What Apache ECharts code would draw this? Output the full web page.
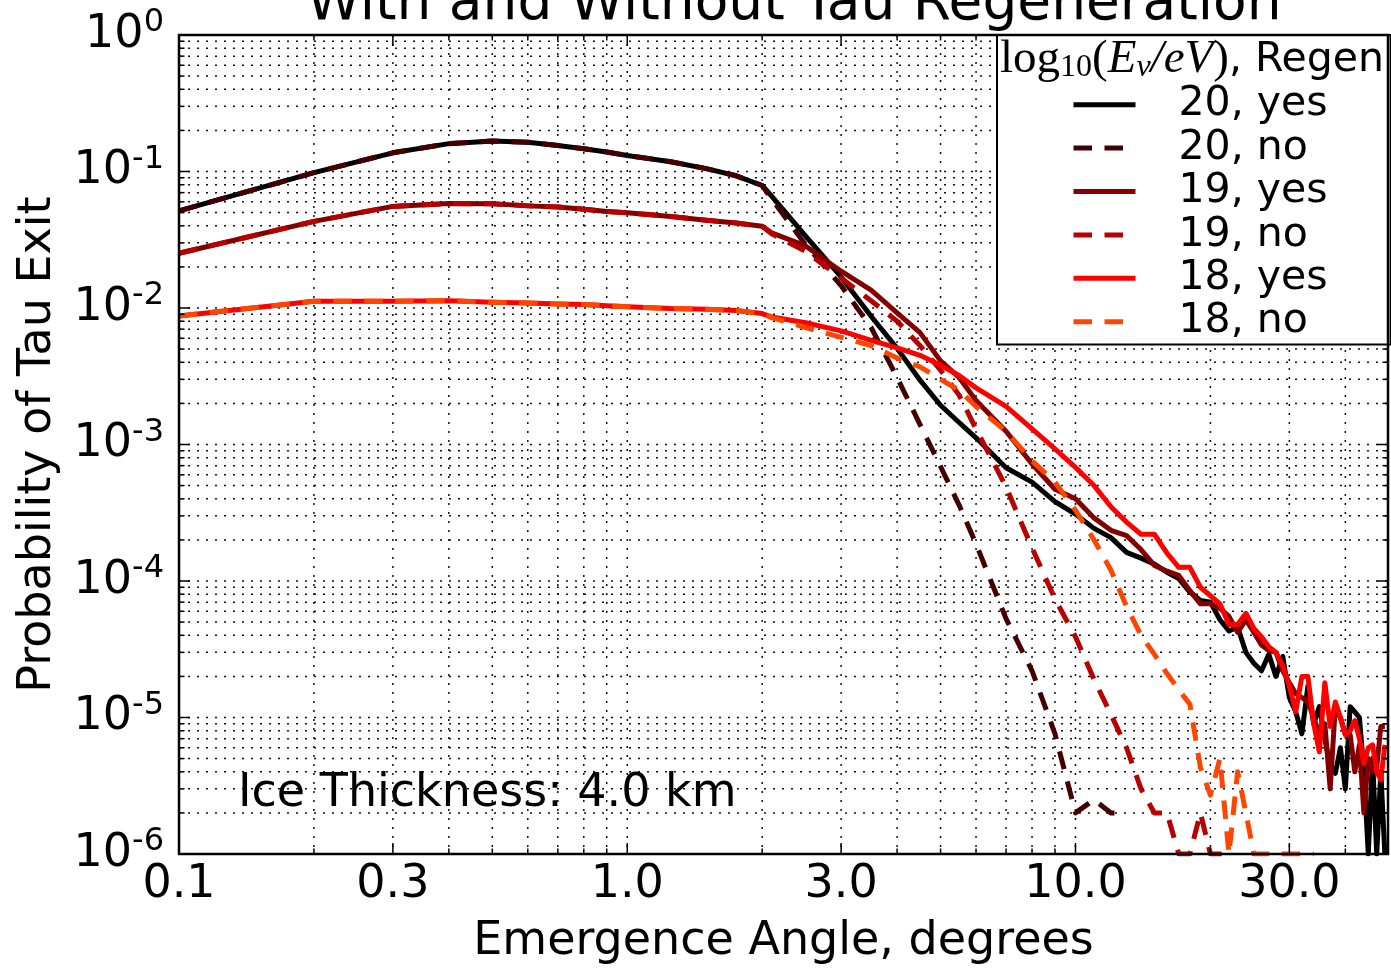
<!DOCTYPE html>
<html><head><meta charset="utf-8">
<script src="https://cdn.jsdelivr.net/npm/echarts@6/dist/echarts.min.js"></script>
<style>html,body{margin:0;padding:0;background:#fff}#c{width:1391px;height:970px}</style>
</head><body><div id="c"></div>
<script>
// ---------------- data (0 = no exiting tau, masked on the log axis) ----------------
const angles = [0.1,0.2,0.3,0.4,0.5,0.6,0.7,0.8,0.9,1.0,1.25,1.5,1.75,2.0,
  2.1,2.5,3.0,3.5,4.0,4.5,5.0,5.5,6.0,7.0,8.0,9.0,
  10,11,12,13,14,15,16,17,18,19,20,21,22,23,24,25,26,27,28,29,
  30,31,32,33,34,35,36,37,38,39,40,41,42,43,44,45,46,47,48,49];

const p20yes = [0.0515,0.098,0.137,0.160,0.167,0.164,0.155,0.147,0.139,0.131,0.118,0.105,0.093,0.079,
  0.066,0.0336,0.0169,0.0087,0.00506,0.00296,0.00194,0.00145,0.00112,0.000676,0.00053,0.000382,
  0.000309,0.000243,0.000208,0.000162,0.000147,0.000133,0.000116,0.000104,0.000083,0.000072,
  0.000070,0.000052,0.000043,0.000046,0.000030,0.000025,0.000022,0.000029,0.000020,0.000028,
  0.000014,0.000011,0.0000076,0.000017,0.000009,0.000012,0.000007,0.0000044,0.0000039,0.000006,
  0.000003,0.000012,0.000011,0.00001,0.000004,0.000001,0.000005,0.000001,0.000004,0.000001];

const p20no = [0.0515,0.098,0.137,0.160,0.167,0.164,0.155,0.147,0.139,0.131,0.118,0.105,0.093,0.079,
  0.063,0.029,0.0146,0.0072,0.0031,0.0014,0.00069,0.00036,0.000187,0.000053,0.000022,0.0000076,
  0.000002,0.0000025,0.000002,0.000002,0,0,0,0,0,0,
  0,0,0,0,0,0,0,0,0,0, 0,0,0,0,0,0,0,0,0,0, 0,0,0,0,0,0,0,0,0,0];

const p19yes = [0.0252,0.0431,0.0555,0.0583,0.058,0.056,0.0549,0.053,0.051,0.0499,0.0469,0.044,0.0419,0.0397,
  0.0355,0.0285,0.0186,0.0135,0.0092,0.0066,0.0041,0.0031,0.0021,0.00125,0.00072,0.00047,
  0.0004,0.00029,0.000235,0.000215,0.00017,0.00013,0.000118,0.00011,0.000085,0.000068,
  0.000068,0.000063,0.000055,0.000042,0.000052,0.000042,0.000034,0.000031,0.00003,0.000022,
  0.000018,0.000015,0.000014,0.000013,0.00001,0.0000075,0.000009,0.000003,0.000012,0.00001,
  0.0000075,0.0000075,0.000004,0.0000063,0.000002,0.000005,0.000004,0.0000043,0.0000086,0.0000086];

const p19no = [0.0252,0.0431,0.0555,0.0583,0.058,0.056,0.0549,0.053,0.051,0.0499,0.0469,0.044,0.0419,0.0397,
  0.035,0.026,0.0166,0.0113,0.0080,0.0053,0.0035,0.0023,0.0013,0.00049,0.000175,0.000074,
  0.000039,0.000019,0.0000105,0.000006,0.000003,0.000002,0.000002,0.000001,0.000001,0.000002,
  0.000001,0.000001,0.000001,0,0,0,0,0,0,0, 0,0,0,0,0,0,0,0,0,0, 0,0,0,0,0,0,0,0,0,0];

const p18yes = [0.00875,0.0112,0.0112,0.0113,0.011,0.0109,0.0107,0.0106,0.0104,0.0102,0.0099,0.0098,0.0096,0.0091,
  0.0086,0.0078,0.0068,0.0058,0.0051,0.0045,0.0038,0.0032,0.0026,0.0019,0.0013,0.00093,
  0.00068,0.0005,0.00035,0.00027,0.00022,0.00022,0.00016,0.000126,0.000126,0.00009,
  0.000078,0.000068,0.000048,0.000048,0.000058,0.000045,0.000039,0.000033,0.00003,0.000024,
  0.000017,0.000011,0.00002,0.00002,0.000009,0.0000056,0.000018,0.0000086,0.000013,0.00001,
  0.0000075,0.000008,0.0000095,0.000007,0.0000046,0.000006,0.0000063,0.000004,0.0000035,0.0000063];

const p18no = [0.00875,0.0112,0.0112,0.0113,0.011,0.0109,0.0107,0.0106,0.0104,0.0102,0.0099,0.0098,0.0096,0.0091,
  0.0085,0.0072,0.0061,0.0053,0.0043,0.0037,0.0030,0.0025,0.0019,0.00125,0.00076,0.00053,
  0.00033,0.0002,0.00012,0.000065,0.00004,0.000029,0.000021,0.000016,0.0000125,0.0000043,
  0.0000027,0.000005,0.000001,0.000004,0.000002,0.000001,0.000001,0.000001,0.000001,0.000001,
  0.000001,0.000001,0.000001,0.000001,0.000001,0,0,0,0,0, 0,0,0,0,0,0,0,0,0,0];

const seriesNames = ['20, yes','20, no','19, yes','19, no','18, yes','18, no'];
const seriesValues = [p20yes,p20no,p19yes,p19no,p18yes,p18no];

const xTickValues = [0.1,0.3,1,3,10,30];
const xTickLabels = ['0.1','0.3','1.0','3.0','10.0','30.0'];
const xMinorValues = [0.2,0.4,0.5,0.6,0.7,0.8,0.9,2,4,5,6,7,8,9,20,40];
const yMajorValues = [1e-6,1e-5,1e-4,1e-3,1e-2,1e-1,1];
const yMinorMult = [2,3,4,5,6,7,8,9];

const titleText = 'With and Without Tau Regeneration';
const xName = 'Emergence Angle, degrees';
const yName = 'Probability of Tau Exit';
const noteText = 'Ice Thickness: 4.0 km';

// ---------------- styles ----------------
const X_MIN = 0.1, X_MAX = 49.8, Y_MIN = 1e-6, Y_MAX = 1;
const FONT = '"DejaVu Sans", sans-serif';
const SERIF = '"Liberation Serif", "DejaVu Serif", serif';
const colors = ['#000000','#440000','#840000','#b80000','#ff0000','#ff4600'];
const dashed = [false,true,false,true,false,true];
const DASH = [18.5,12.5];

const chart = echarts.init(document.getElementById('c'), null, {renderer:'canvas'});

const series = seriesNames.map((name, k) => ({
  name, type:'line', symbol:'none', showSymbol:false, clip:true, connectNulls:false, z: 2,
  data: angles.map((a,i) => [a, seriesValues[k][i] > 0 ? seriesValues[k][i] : null]),
  lineStyle:{color:colors[k], width:5, type: dashed[k] ? DASH : 'solid', cap:'butt', join:'round'},
  itemStyle:{color:colors[k]},
  emphasis:{disabled:true}
}));

chart.setOption({
  animation:false,
  backgroundColor:'#fff',
  title:{text:titleText, left:794, top:-23, textAlign:'center', padding:0,
    textStyle:{fontFamily:FONT, fontSize:55, fontWeight:'normal', color:'#000', lineHeight:55}},
  grid:{left:179, top:35, right:3, bottom:112, show:false},
  legend:{orient:'vertical', left:997, top:35, padding:[48,63,1,74], itemWidth:62, itemHeight:14, itemGap:0,
    backgroundColor:'#fff', borderColor:'#000', borderWidth:2, borderRadius:0, selectedMode:false, z:4,
    data: seriesNames,
    itemStyle:{opacity:0, borderWidth:0},
    lineStyle:{width:5},
    textStyle:{fontFamily:FONT, fontSize:41, color:'#000', lineHeight:43.4, padding:[0,0,0,38]}},
  xAxis:{type:'log', logBase:10, min:X_MIN, max:X_MAX,
    name:xName, nameLocation:'middle', nameGap:65,
    nameTextStyle:{fontFamily:FONT, fontSize:46, color:'#000'},
    axisLine:{show:false}, axisTick:{show:false}, axisLabel:{show:false}, splitLine:{show:false}},
  yAxis:{type:'log', logBase:10, min:Y_MIN, max:Y_MAX,
    name:yName, nameLocation:'middle', nameGap:118, nameRotate:90,
    nameTextStyle:{fontFamily:FONT, fontSize:46, color:'#000'},
    axisLine:{show:false}, axisTick:{show:false}, splitLine:{show:false},
    axisLabel:{margin:15, formatter: v => '{b|10}{s|' + Math.round(Math.log10(v)) + '}',
      rich:{b:{fontFamily:FONT, fontSize:46, lineHeight:56, color:'#000'},
            s:{fontFamily:FONT, fontSize:32, lineHeight:32, color:'#000', padding:[0,0,24,0]}}}},
  series
});

// ---- ticks, grid, frame, extra tick labels: positions from the chart's own scales ----
const X = v => chart.convertToPixel({xAxisIndex:0}, v);
const Y = v => chart.convertToPixel({yAxisIndex:0}, v);
const L = X(X_MIN), R = X(X_MAX), T = Y(Y_MAX), B = Y(Y_MIN);
const els = [];
const gridStyle = {stroke:'#111', lineWidth:1.5, lineDash:[2,7], fill:null};
const tickStyle = {stroke:'#000', lineWidth:1.5, fill:null};
const line = (x1,y1,x2,y2,style,z) => els.push({type:'line', silent:true, z, shape:{x1,y1,x2,y2}, style});

const xAll = xTickValues.concat(xMinorValues);
xAll.forEach(v => { const x = X(v); if (x > L + 1 && x < R - 1) line(x,T,x,B,gridStyle,1); });
const yAll = [];
yMajorValues.forEach((d,i) => { yAll.push({v:d, major:true}); if (i < yMajorValues.length-1) yMinorMult.forEach(m => yAll.push({v:d*m, major:false})); });
yAll.forEach(o => { const y = Y(o.v); if (y > T + 1 && y < B - 1) line(L,y,R,y,gridStyle,1); });

xTickValues.forEach(v => { const x = X(v); line(x,B,x,B-11,tickStyle,3); line(x,T,x,T+11,tickStyle,3); });
xMinorValues.forEach(v => { const x = X(v); line(x,B,x,B-5.5,tickStyle,3); line(x,T,x,T+5.5,tickStyle,3); });
yAll.forEach(o => { const y = Y(o.v), len = o.major ? 11 : 5.5; line(L,y,L+len,y,tickStyle,3); line(R,y,R-len,y,tickStyle,3); });

els.push({type:'rect', silent:true, z:5, shape:{x:L, y:T, width:R-L, height:B-T},
  style:{fill:null, stroke:'#000', lineWidth:2.5}});

xTickValues.forEach((v,i) => els.push({type:'text', silent:true, z:3,
  style:{text:xTickLabels[i], x:X(v), y:B+31, font:'46px ' + FONT, fill:'#000',
    align:'center', textAlign:'center', verticalAlign:'middle', textVerticalAlign:'middle'}}));

els.push({type:'text', silent:true, z:3,
  style:{text:noteText, x:238, y:794, font:'46px ' + FONT, fill:'#000',
    align:'left', textAlign:'left', verticalAlign:'middle', textVerticalAlign:'middle'}});

els.push({type:'text', silent:true, z:6,
  style:{text:'{m|log}{d|10}{m|(}{i|E}{j|\u03bd}{i|/eV}{m|)}{t|, Regen}', x:1000, y:60,
    align:'left', textAlign:'left', verticalAlign:'middle', textVerticalAlign:'middle',
    rich:{
      m:{fontFamily:SERIF, fontSize:47, lineHeight:48, fill:'#000', color:'#000'},
      d:{fontFamily:SERIF, fontSize:32, lineHeight:32, fill:'#000', color:'#000', padding:[16,0,0,0]},
      i:{fontFamily:SERIF, fontStyle:'italic', fontSize:47, lineHeight:48, fill:'#000', color:'#000'},
      j:{fontFamily:SERIF, fontStyle:'italic', fontSize:32, lineHeight:32, fill:'#000', color:'#000', padding:[16,0,0,0]},
      t:{fontFamily:FONT, fontSize:41, lineHeight:48, fill:'#000', color:'#000'}
    }}});

chart.setOption({graphic:{elements:els}});
</script></body></html>
